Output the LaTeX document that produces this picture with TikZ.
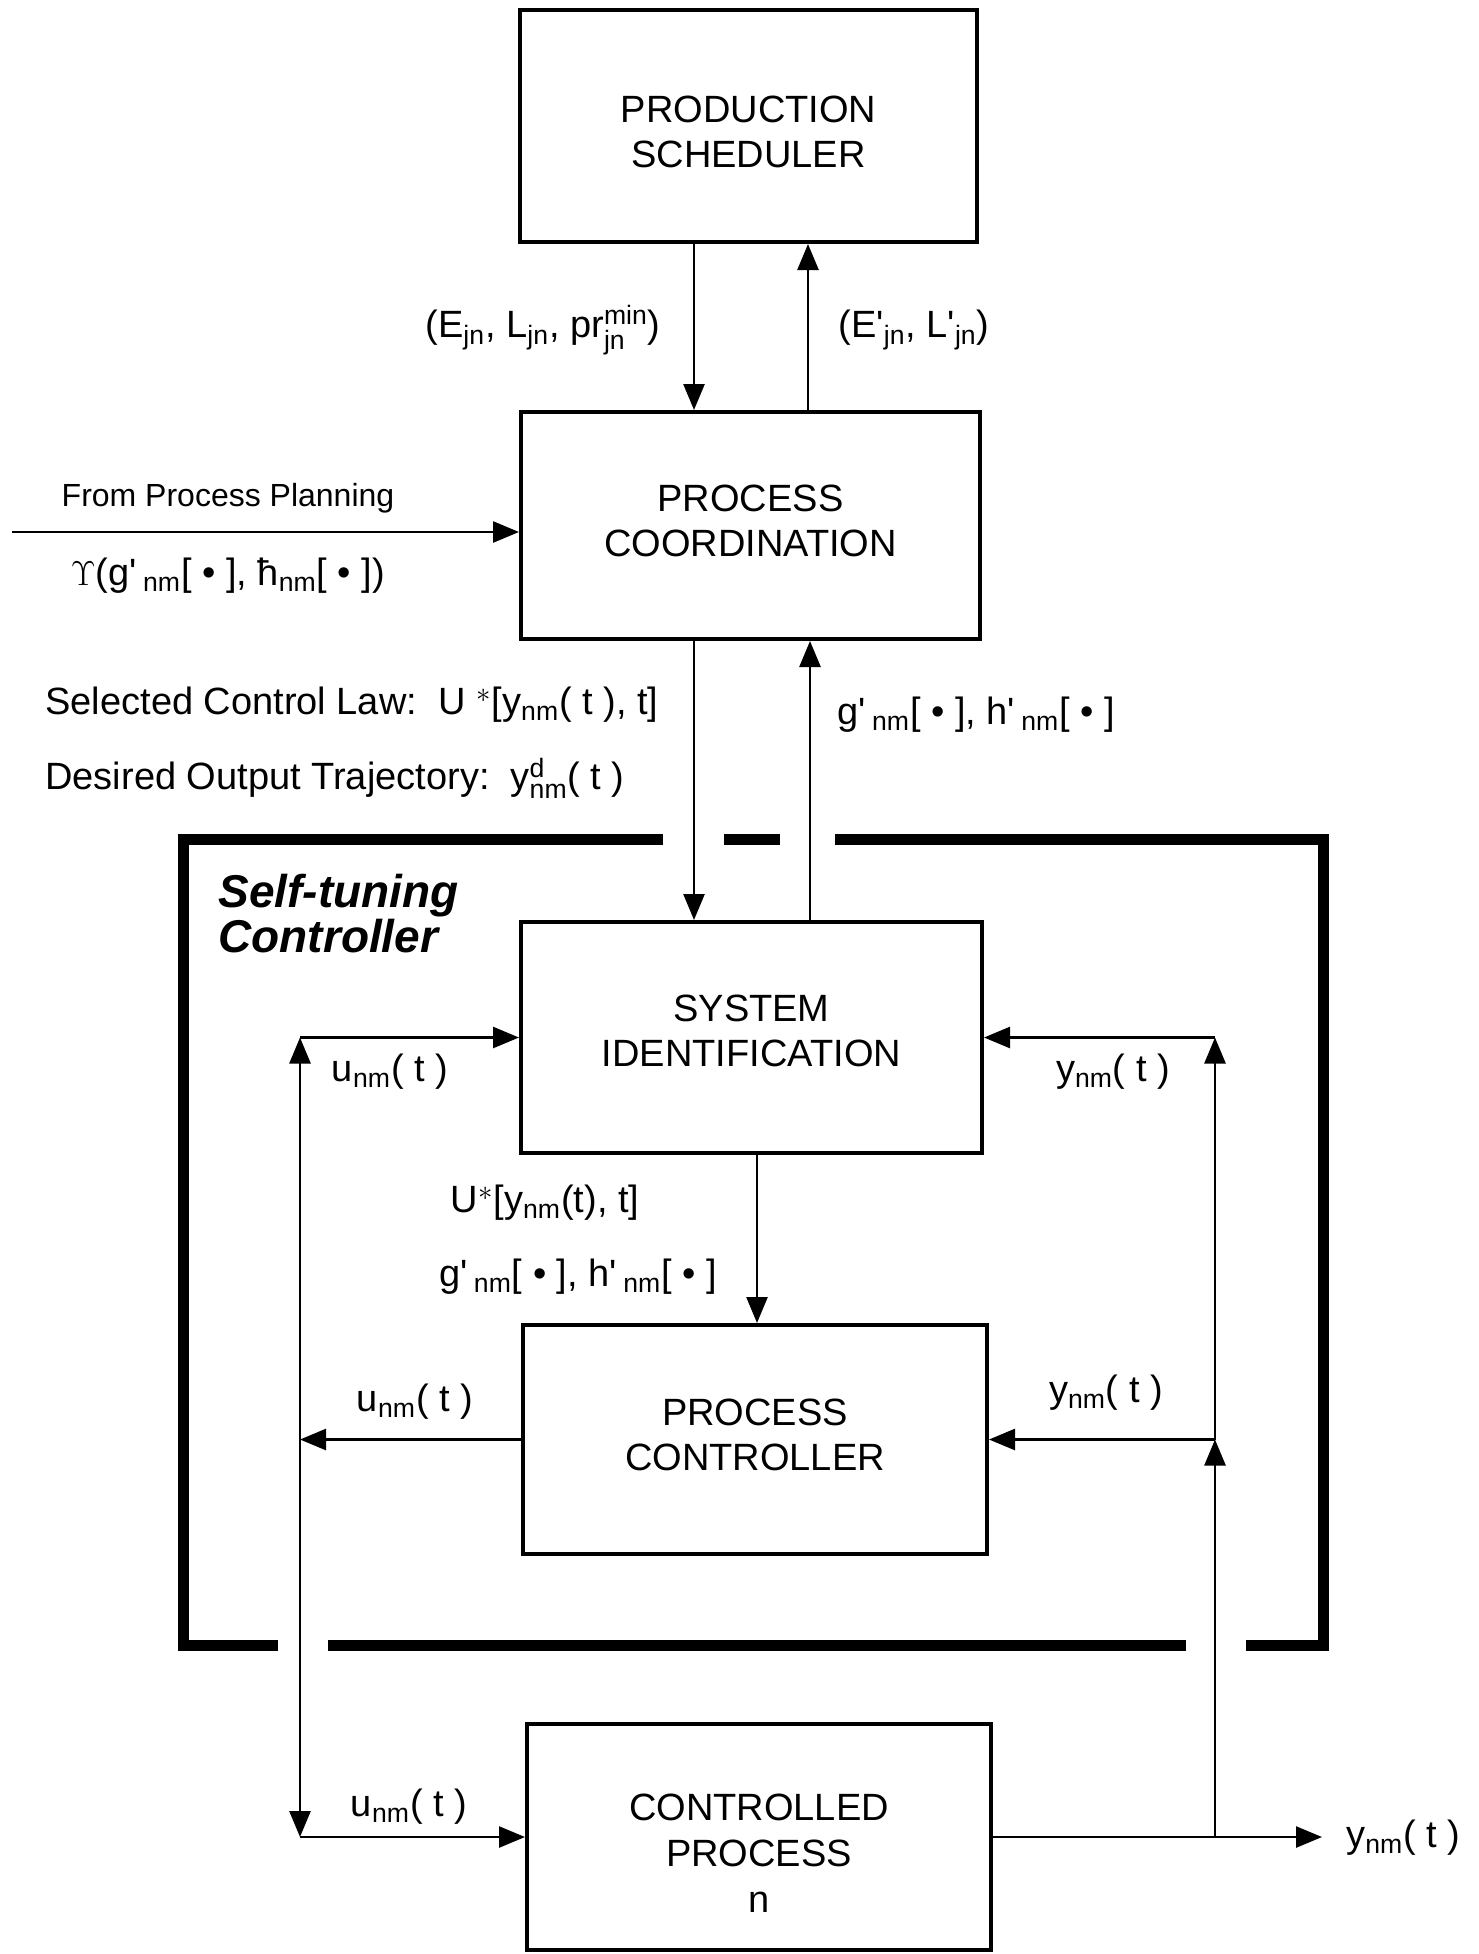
\documentclass[tikz,border=0pt]{standalone}
\usepackage{amsmath}
\usepackage{fontspec}
\setmainfont{Liberation Sans}
\usetikzlibrary{arrows.meta}
\newcommand{\sbs}[1]{\ensuremath{_{\text{#1}}}}
\newcommand{\sbsp}[2]{\ensuremath{^{\text{#1}}_{\text{#2}}}}
\newcommand{\ap}{\textquotesingle}
\newcommand{\dn}[1]{\rule[-#1]{0pt}{0pt}}
\begin{document}
\begin{tikzpicture}[x=0.5pt,y=-0.5pt,
  box/.style={draw, line width=2pt, inner sep=0pt, align=center, font=\fontsize{19}{22.5}\selectfont},
  lab/.style={inner sep=0pt, font=\fontsize{19}{22}\selectfont},
  arr/.style={line width=1.3pt, -{Triangle[length=13pt,width=10.5pt]}},
  stbar/.style={line width=5.5pt, line join=miter}]
\useasboundingbox (0,0) rectangle (1478,1954);
% boxes
\node[box, minimum width=228.5pt, minimum height=116pt] (ps) at (748.5,126) {\rule{0pt}{19.5pt}PRODUCTION\\SCHEDULER};
\node[box, minimum width=229.5pt, minimum height=113.5pt] (pc) at (750.5,525.5) {PROCESS\\COORDINATION\dn{5pt}};
\node[box, minimum width=230.5pt, minimum height=115.5pt] (si) at (751.5,1037.5) {SYSTEM\\IDENTIFICATION\dn{7pt}};
\node[box, minimum width=232pt, minimum height=114.5pt] (pctl) at (755,1439.5) {PROCESS\\CONTROLLER\dn{5pt}};
\node[box, minimum width=232pt, minimum height=113pt] (cp) at (759,1837) {};
\node[lab, align=center, font=\fontsize{19}{23}\selectfont] (cpt) at (759,1853) {CONTROLLED\\PROCESS\\n};
% self-tuning bracket
\draw[stbar] (663,839) -- (183,839) -- (183,1645) -- (278,1645);
\draw[stbar] (724,839) -- (780,839);
\draw[stbar] (835,839) -- (1323,839) -- (1323,1645) -- (1246,1645);
\draw[stbar] (328,1645) -- (1186,1645);
% x positions
\coordinate (xa) at (694,0);
\coordinate (xb) at (808,0);
\coordinate (xc) at (810,0);
\coordinate (xd) at (757,0);
\coordinate (ul) at (300,0);
\coordinate (yl) at (1215,0);
\coordinate (pp) at (12,532);
% vertical connectors
\draw[arr] (ps.south -| xa) -- (pc.north -| xa);
\draw[arr] (pc.north -| xb) -- (ps.south -| xb);
\draw[arr] (pp) -- (pp -| pc.west);
\draw[arr] (pc.south -| xa) -- (si.north -| xa);
\draw[arr] (si.north -| xc) -- (pc.south -| xc);
\draw[arr] (si.south -| xd) -- (pctl.north -| xd);
% u loop
\coordinate (uj) at (pctl.west -| ul);
\coordinate (utop) at (si.west -| ul);
\coordinate (ubot) at (cp.west -| ul);
\draw[arr] (pctl.west) -- (uj);
\draw[arr] (uj) -- (utop);
\draw[arr] (utop) -- (si.west);
\draw[arr] (uj) -- (ubot);
\draw[arr] (ubot) -- (cp.west);
% y loop
\coordinate (yj) at (pctl.east -| yl);
\coordinate (ytop) at (si.east -| yl);
\coordinate (yo) at (cp.east -| yl);
\coordinate (yend) at (1322,1837);
\draw[arr] (cp.east) -- (yend);
\draw[arr] (yo) -- (yj);
\draw[arr] (yj) -- (ytop);
\draw[arr] (ytop) -- (si.east);
\draw[arr] (yj) -- (pctl.east);
% labels
\node[lab] (l1) at (543,330) {(E\sbs{jn}, L\sbs{jn}, pr\sbsp{min}{jn})};
\node[lab] (l2) at (914,330) {(E\ap\sbs{jn}, L\ap\sbs{jn})};
\node[lab, font=\fontsize{16}{18}\selectfont] (l3) at (228,498) {From Process Planning};
\node[lab] (l4) at (228,576) {$\Upsilon$(g\ap\,\sbs{nm}[ • ], ħ\sbs{nm}[ • ])};
\node[lab, anchor=west] (l5) at (45,705) {Selected Control Law:\ \ U $^*$[y\sbs{nm}( t ), t]};
\node[lab, anchor=west] (l6) at (45,778) {Desired Output Trajectory:\ \ y\sbsp{d}{nm}( t )};
\node[lab, anchor=west] (l7) at (837,715) {g\ap\,\sbs{nm}[ • ], h\ap\,\sbs{nm}[ • ]};
\node[lab, font=\fontsize{23}{22.5}\selectfont\bfseries\itshape, align=left, anchor=west] (stc) at (218,914) {Self-tuning\\Controller};
\node[lab] (lu1) at (390,1072) {u\sbs{nm}( t )};
\node[lab] (ly1) at (1113,1072) {y\sbs{nm}( t )};
\node[lab] (lU) at (545,1203) {U$^*$[y\sbs{nm}(t), t]};
\node[lab] (lg) at (578,1277) {g\ap\,\sbs{nm}[ • ], h\ap\,\sbs{nm}[ • ]};
\node[lab] (lu2) at (415,1402) {u\sbs{nm}( t )};
\node[lab] (ly2) at (1106,1393) {y\sbs{nm}( t )};
\node[lab] (lu3) at (409,1807) {u\sbs{nm}( t )};
\node[lab, anchor=west] (ly3) at (1346,1838) {y\sbs{nm}( t )};
\end{tikzpicture}
\end{document}
